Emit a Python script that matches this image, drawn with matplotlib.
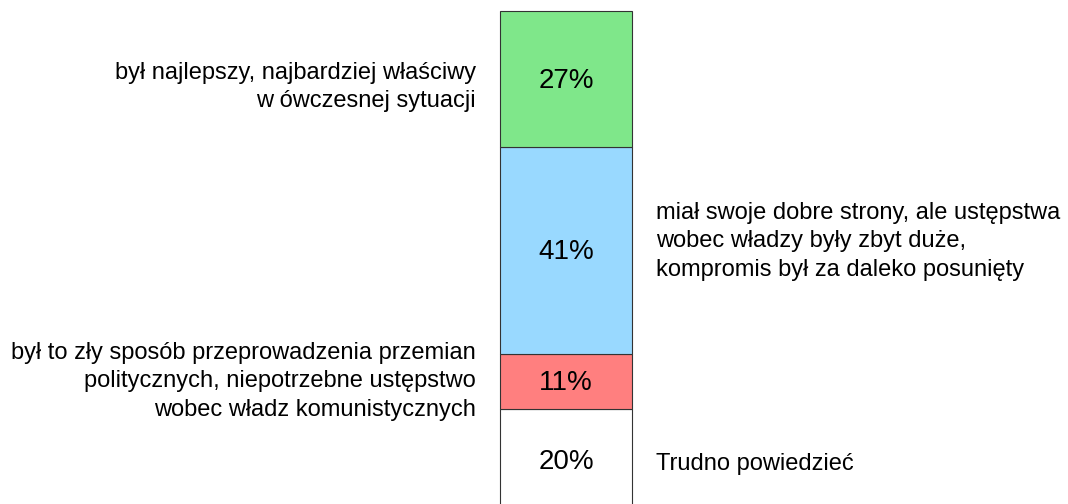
import numpy as np
import matplotlib
matplotlib.use("Agg")
import matplotlib.pyplot as plt

plt.rcParams['font.family'] = ['Liberation Sans', 'DejaVu Sans']

# segments from the bottom of the bar upwards
shares = [20, 11, 41, 27]
labels = [
    "Trudno powiedzieć",
    "był to zły sposób przeprowadzenia przemian\npolitycznych, niepotrzebne ustępstwo\nwobec władz komunistycznych",
    "miał swoje dobre strony, ale ustępstwa\nwobec władzy były zbyt duże,\nkompromis był za daleko posunięty",
    "był najlepszy, najbardziej właściwy\nw ówczesnej sytuacji",
]
colors = ["#ffffff", "#ff7f7f", "#99d9ff", "#7fe78a"]
sides = ["right", "left", "right", "left"]
nudge = [-4, 0, 9, -8]  # vertical pixel offsets of side labels

fig = plt.figure(figsize=(10.68, 5.04), dpi=100)
ax = fig.add_axes([0, 0, 1, 1])

px = 5.04  # pixels per percent
total = sum(shares)
ax.set_xlim(0, 1068)
ax.set_ylim(total - 493 / px, total + 11 / px)
ax.axis("off")

xc, w = 566, 132
bottoms = np.concatenate([[0], np.cumsum(shares)[:-1]])
ax.bar([xc] * len(shares), shares, bottom=bottoms, width=w, color=colors,
       edgecolor="#333333", linewidth=0.8, clip_on=True)

for s, b, lab, side, dy in zip(shares, bottoms, labels, sides, nudge):
    mid = b + s / 2
    ax.annotate(f"{s}%", xy=(xc, mid), xytext=(0, -2), textcoords="offset pixels",
                ha="center", va="center", fontsize=20, color="black")
    if side == "left":
        x, ha = xc - w / 2 - 24, "right"
    else:
        x, ha = xc + w / 2 + 24, "left"
    ax.annotate(lab, xy=(x, mid), xytext=(0, dy), textcoords="offset pixels",
                ha=ha, va="center", fontsize=17, multialignment=ha,
                linespacing=1.38)

fig.savefig("out.png", dpi=100)
